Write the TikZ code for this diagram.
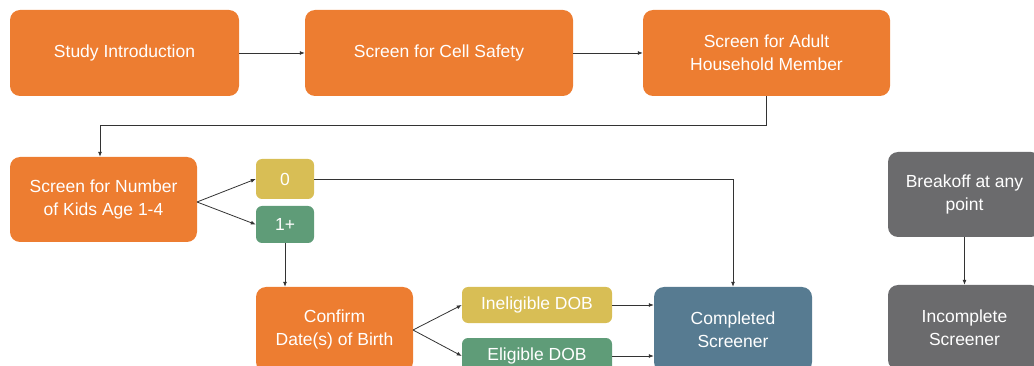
\documentclass[tikz,border=0pt]{standalone}
\usepackage{fontspec}
\setmainfont{Liberation Sans}
\usetikzlibrary{arrows.meta}
\definecolor{orng}{HTML}{ED7D31}
\definecolor{yel}{HTML}{D8BE55}
\definecolor{grn}{HTML}{5F9C78}
\definecolor{blu}{HTML}{577B91}
\definecolor{gry}{HTML}{6B6B6D}
\definecolor{lnk}{HTML}{333333}
\tikzset{
  box/.style={rounded corners=10pt, inner sep=2pt, align=center, text=white,
    font=\fontsize{17.5}{23}\selectfont},
  conn/.style={draw=lnk, line width=0.8pt, -{Latex[length=5pt,width=4pt]}},
}
\begin{document}
\begin{tikzpicture}[x=1pt,y=-1pt]
\useasboundingbox (0,0) rectangle (1034,366);
\clip (0,0) rectangle (1034,366);
\node[box, fill=orng, minimum width=229pt, minimum height=86pt] (intro) at (124.5,53) {Study Introduction};
\node[box, fill=orng, minimum width=268pt, minimum height=86pt] (cell) at (439,53) {Screen for Cell Safety};
\node[box, fill=orng, minimum width=247pt, minimum height=86pt] (adult) at (766.5,53) {Screen for Adult\\Household Member};
\node[box, fill=orng, minimum width=187pt, minimum height=85pt] (kids) at (103.5,199.5) {Screen for Number\\of Kids Age 1-4};
\node[box, fill=yel, rounded corners=6pt, minimum width=58pt, minimum height=40pt] (zero) at (285,179) {0};
\node[box, fill=grn, rounded corners=6pt, minimum width=58pt, minimum height=37pt] (one) at (285,224.5) {1+};
\node[box, fill=orng, minimum width=157pt, minimum height=85pt] (confirm) at (334.5,329.5) {Confirm\\Date(s) of Birth};
\node[box, fill=yel, rounded corners=6pt, minimum width=150pt, minimum height=36pt] (inel) at (537,305) {Ineligible DOB};
\node[box, fill=grn, rounded corners=6pt, minimum width=150pt, minimum height=36pt] (elig) at (537,356) {Eligible DOB};
\node[box, fill=blu, minimum width=158pt, minimum height=85pt] (compl) at (733,329.5) {Completed\\Screener};
\node[box, fill=gry, minimum width=153pt, minimum height=85pt] (brk) at (964.5,194.5) {Breakoff at any\\point};
\node[box, fill=gry, minimum width=153pt, minimum height=85pt] (inc) at (964.5,327.5) {Incomplete\\Screener};
\coordinate (turn) at (100,125);
\coordinate (k) at (197,202);
\coordinate (c) at (413,330);
\draw[conn] (intro.east) -- (cell.west);
\draw[conn] (cell.east) -- (adult.west);
\draw[conn] (adult.south) |- (turn) -- (kids.north -| turn);
\draw[conn] (k) -- (zero.west);
\draw[conn] (k) -- (one.west);
\draw[conn] (zero.east) -| (compl.north);
\draw[conn] (one.south) -- (one.south |- confirm.north);
\draw[conn] (c) -- (inel.west);
\draw[conn] (c) -- (elig.west);
\draw[conn] (inel.east) -- (inel.east -| compl.west);
\draw[conn] (elig.east) -- (elig.east -| compl.west);
\draw[conn] (brk.south) -- (inc.north);
\end{tikzpicture}
\end{document}
